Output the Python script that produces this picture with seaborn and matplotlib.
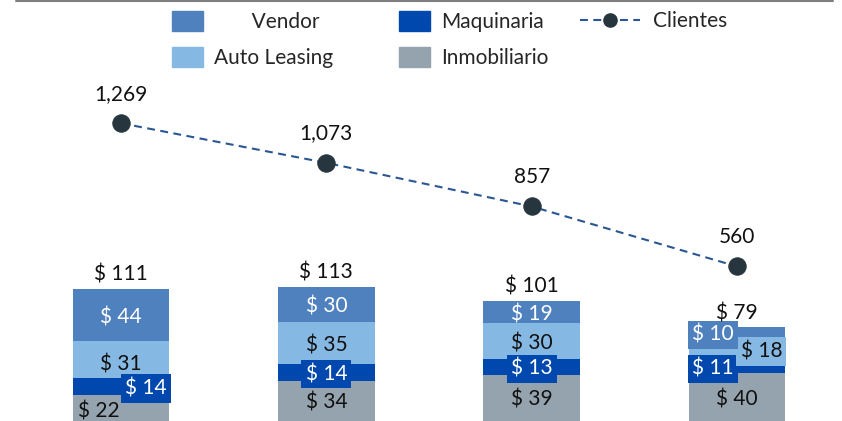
import numpy as np
import seaborn as sns
from matplotlib import pyplot as plt
from matplotlib.lines import Line2D
from matplotlib.patches import Patch

# Datos (millones de $ por línea de negocio y número de clientes)
periodos = ["P1", "P2", "P3", "P4"]
inmobiliario = [22, 34, 39, 40]
maquinaria = [14, 14, 13, 11]
auto_leasing = [31, 35, 30, 18]
vendor = [44, 30, 19, 10]
clientes = [1269, 1073, 857, 560]

COLORES = {
    "Vendor": "#4f81be",
    "Auto Leasing": "#86b8e4",
    "Maquinaria": "#0048ad",
    "Inmobiliario": "#95a3ae",
}
COLOR_TEXTO = {
    "Vendor": "white",
    "Auto Leasing": "#111111",
    "Maquinaria": "white",
    "Inmobiliario": "#111111",
}
COLOR_LINEA = "#2b5694"
COLOR_MARCA = "#27353f"

# ajustes de posición de algunas etiquetas (dx en categorías, dy en unidades)
AJUSTES = {
    ("Inmobiliario", 0): dict(dx=-0.21, ha="left", dy=-1.0),
    ("Maquinaria", 0): dict(dx=0.122, caja=True),
    ("Maquinaria", 1): dict(caja=True),
    ("Maquinaria", 2): dict(caja=True),
    ("Maquinaria", 3): dict(dx=-0.119, caja=True),
    ("Auto Leasing", 0): dict(dy=-2.5),
    ("Auto Leasing", 3): dict(dx=0.118, caja=True),
    ("Vendor", 3): dict(dx=-0.119, caja=True),
}

sns.set_style("white")
plt.rcParams["font.family"] = ["Lato", "DejaVu Sans"]

fig = plt.figure(figsize=(8.42, 4.21), dpi=100)
ax = fig.add_axes([18.3 / 842, 0, 821.4 / 842, 1])

series = [
    ("Inmobiliario", inmobiliario),
    ("Maquinaria", maquinaria),
    ("Auto Leasing", auto_leasing),
    ("Vendor", vendor),
]
acum = np.cumsum([v for _, v in series], axis=0)

# barras apiladas: de la capa superior a la inferior
for i in range(len(series) - 1, -1, -1):
    nombre = series[i][0]
    sns.barplot(x=periodos, y=acum[i], color=COLORES[nombre], width=0.47,
                saturation=1, errorbar=None, linewidth=0, ax=ax)

for i, (nombre, vals) in enumerate(series):
    base = acum[i] - np.array(vals)
    for j, v in enumerate(vals):
        aj = AJUSTES.get((nombre, j), {})
        caja = None
        if aj.get("caja"):
            caja = dict(boxstyle="square,pad=0.2", fc=COLORES[nombre], ec="none")
        ax.text(j + aj.get("dx", 0), base[j] + v / 2 + aj.get("dy", 0), f"$ {v}",
                ha=aj.get("ha", "center"), va="center_baseline", fontsize=15,
                color=COLOR_TEXTO[nombre], bbox=caja)

for j, t in enumerate(acum[-1]):
    ax.annotate(f"$ {t}", (j, t), xytext=(0, 11.5), textcoords="offset points",
                ha="center", va="center_baseline", fontsize=15, color="#111111")

ax.set_xlim(-0.5, 3.5)
ax.set_ylim(0, 421 / 1.19)
ax.set_axis_off()

ax2 = ax.twinx()
sns.lineplot(x=np.arange(len(periodos)), y=clientes, ax=ax2, color=COLOR_LINEA,
             lw=1.5, linestyle=(0, (3.8, 2.6)), marker="o", markersize=12.5,
             markerfacecolor=COLOR_MARCA, markeredgecolor=COLOR_MARCA)
for j, v in enumerate(clientes):
    ax2.annotate(f"{v:,}", (j, v), xytext=(0, 22.5), textcoords="offset points",
                 ha="center", va="center_baseline", fontsize=15, color="#111111")
ax2.set_ylim(-205, 1879)
ax2.set_xlim(-0.5, 3.5)
ax2.set_axis_off()

# leyendas
handles = [Patch(color=COLORES[n]) for n in ["Vendor", "Auto Leasing", "Maquinaria", "Inmobiliario"]]
fig.legend(handles=handles,
           labels=["       Vendor", "Auto Leasing", "Maquinaria", "Inmobiliario"],
           ncol=2, loc="upper left", bbox_to_anchor=(172 / 842, 1 - 11 / 421),
           frameon=False, borderpad=0, borderaxespad=0, handlelength=1.5,
           handleheight=1.1, handletextpad=0.53, columnspacing=3.15,
           labelspacing=0.72, fontsize=15)
linea = Line2D([], [], color=COLOR_LINEA, lw=1.5, linestyle=(0, (3.8, 2.6)),
               marker="o", markersize=9.5, markerfacecolor=COLOR_MARCA,
               markeredgecolor=COLOR_MARCA)
fig.legend(handles=[linea], labels=["Clientes"], loc="upper left",
           bbox_to_anchor=(580 / 842, 1 - 11 / 421), frameon=False, borderpad=0,
           borderaxespad=0, handlelength=2.9, handletextpad=0.58, fontsize=15)

fig.add_artist(Line2D([16 / 842, 833 / 842], [1 - 1 / 421] * 2,
                      transform=fig.transFigure, color="#7f7f7f", lw=1.5))

fig.savefig("out.png", dpi=100)
